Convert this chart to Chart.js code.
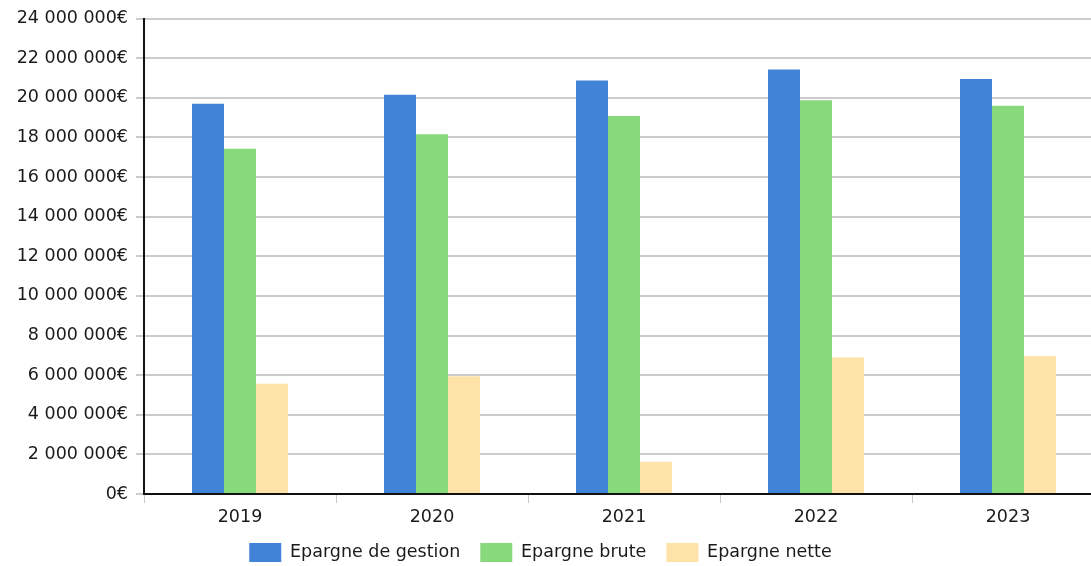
<!DOCTYPE html>
<html>
<head>
<meta charset="utf-8">
<script src="https://cdn.jsdelivr.net/npm/chart.js@4/dist/chart.umd.min.js"></script>
<style>
  body { margin: 0; background: #fff; overflow: hidden; width: 1091px; height: 566px; }
  canvas { display: block; margin-left: -23px; }
</style>
</head>
<body>
<canvas id="epargneChart" width="1127" height="566"></canvas>
<script>
const years = ['2019', '2020', '2021', '2022', '2023'];
const epargneGestion = [19700000, 20150000, 20870000, 21420000, 20950000];
const epargneBrute = [17420000, 18160000, 19080000, 19880000, 19600000];
const epargneNette = [5570000, 5940000, 1630000, 6890000, 6960000];

function formatEuro(value) {
    return value.toString().replace(/\B(?=(\d{3})+(?!\d))/g, ' ') + '€';
}

const ctx = document.getElementById('epargneChart');

new Chart(ctx, {
    type: 'bar',
    data: {
        labels: years,
        datasets: [{
            label: 'Epargne de gestion',
            data: epargneGestion,
            backgroundColor: '#4183D7'
        }, {
            label: 'Epargne brute',
            data: epargneBrute,
            backgroundColor: '#87D97C'
        }, {
            label: 'Epargne nette',
            data: epargneNette,
            backgroundColor: '#FDE3A7'
        }]
    },
    options: {
        responsive: false,
        animation: false,
        devicePixelRatio: 1,
        datasets: {
            bar: {
                categoryPercentage: 0.5,
                barPercentage: 1.0
            }
        },
        layout: {
            padding: { left: 0, right: 0, top: 16, bottom: -6 }
        },
        plugins: {
            tooltip: { enabled: false },
            legend: {
                position: 'bottom',
                labels: {
                    boxWidth: 32,
                    boxHeight: 19,
                    padding: 20,
                    color: '#1a1a1a',
                    font: { family: 'DejaVu Sans', size: 17.5 }
                }
            }
        },
        scales: {
            x: {
                afterFit: function (scale) { scale.height = 29; },
                border: { color: '#111', width: 2 },
                grid: {
                    drawOnChartArea: false,
                    drawTicks: true,
                    tickLength: 9,
                    color: '#c8c8c8',
                    lineWidth: 1
                },
                ticks: {
                    padding: 4,
                    color: '#1a1a1a',
                    font: { family: 'DejaVu Sans', size: 17.5 }
                }
            },
            y: {
                min: 0,
                max: 24000000,
                afterFit: function (scale) { scale.width = 167; },
                border: { color: '#111', width: 2 },
                grid: {
                    color: '#cccccc',
                    lineWidth: 2,
                    tickLength: 8
                },
                ticks: {
                    stepSize: 2000000,
                    padding: 8,
                    color: '#1a1a1a',
                    font: { family: 'DejaVu Sans', size: 17.5 },
                    callback: function (value) { return formatEuro(value); }
                }
            }
        }
    }
});
</script>
</body>
</html>
